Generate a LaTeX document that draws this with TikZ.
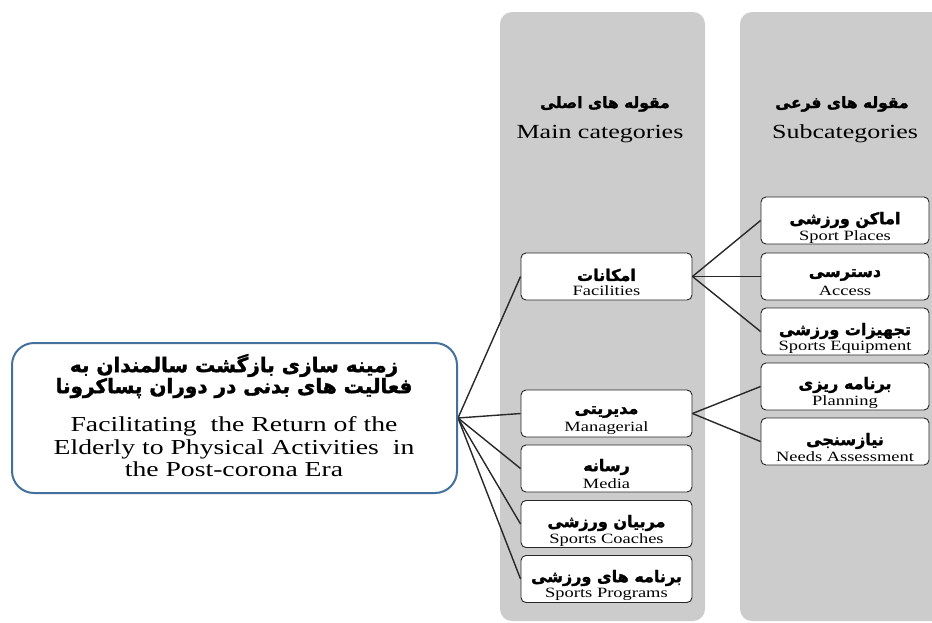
\documentclass[tikz,border=0pt]{standalone}
\usepackage{fontspec}
\TeXXeTstate=1
\setmainfont{Liberation Serif}
\newfontfamily\en[FakeStretch=1.3]{Liberation Serif}
\newfontfamily\fa[Script=Arabic,FakeBold=1.8]{DejaVu Sans}
\newcommand\faT[1]{{\fa\bfseries\beginR #1\endR}}
\definecolor{panelgray}{RGB}{204,204,204}
\definecolor{bigblue}{RGB}{65,113,156}
\definecolor{linegray}{RGB}{40,40,40}
\tikzset{
  panel/.style={fill=panelgray, draw=none, rounded corners=12pt},
  mbox/.style={draw=black!85, line width=0.9pt, fill=white, rounded corners=5pt,
    minimum width=171pt, minimum height=47pt, inner sep=0pt},
  sbox/.style={mbox, minimum width=168pt},
  bigbox/.style={draw=bigblue, line width=2pt, fill=white, rounded corners=22pt,
    minimum width=445pt, minimum height=150pt, inner sep=0pt},
  fatxt/.style={inner sep=0pt, font=\fontsize{16}{18}\selectfont},
  entxt/.style={inner sep=0pt, font=\en\fontsize{14.2}{16}\selectfont},
  hfa/.style={inner sep=0pt, font=\fontsize{15.5}{17}\selectfont},
  hen/.style={inner sep=0pt, font=\en\fontsize{20}{22}\selectfont},
  bfa/.style={inner sep=0pt, font=\fontsize{20}{19}\selectfont, align=center},
  ben/.style={inner sep=0pt, font=\en\fontsize{21.3}{22.5}\selectfont, align=center},
  conn/.style={draw=linegray, line width=1.4pt}
}
\begin{document}
\begin{tikzpicture}[x=1pt,y=-1pt]
\useasboundingbox (0,0) rectangle (932,622);
% panels
\fill[panel] (500,12) rectangle (705,621);
\fill[panel] (740,12) rectangle (960,621);
\node[hfa] (h1fa) at (605,104) {\faT{مقوله های اصلی}};
\node[hen] (h1en) at (600,134) {Main categories};
\node[hfa] (h2fa) at (842,104) {\faT{مقوله های فرعی}};
\node[hen] (h2en) at (845,134) {Subcategories};
% boxes
\node[mbox] (fac) at (606.5,276.5) {};
\node[mbox] (man) at (606.5,413.5) {};
\node[mbox] (med) at (606.5,468.5) {};
\node[mbox] (coa) at (606.5,524) {};
\node[mbox] (pro) at (606.5,579) {};
\node[sbox] (spl) at (845,220.5) {};
\node[sbox] (acc) at (845,276.5) {};
\node[sbox] (equ) at (845,331.5) {};
\node[sbox] (pla) at (845,386.5) {};
\node[sbox] (nee) at (845,441.5) {};
% connectors
\coordinate (hub) at (458,418);
\foreach \t in {fac,man,med,coa,pro}{\draw[conn] (hub) -- (\t.west);}
\foreach \t in {spl,acc,equ}{\draw[conn] (fac.east) -- (\t.west);}
\foreach \t in {pla,nee}{\draw[conn] (man.east) -- (\t.west);}
% big box drawn over hub
\node[bigbox] (big) at (234.5,418) {};
% big box text
\node[bfa] (bigfa) at (234,376) {\faT{زمینه سازی  بازگشت سالمندان به}\\\faT{فعالیت های بدنی در دوران پساکرونا}};
\node[ben] (bigen) at (234,447) {Facilitating\ \ the Return of the\\Elderly to Physical Activities\ \ in\\the Post-corona Era};
% box texts
\node[fatxt] (facfa) at (606.5,275) {\faT{امکانات}};
\node[entxt] (facen) at (606.5,291) {Facilities};
\node[fatxt] (manfa) at (606.5,412) {\faT{مدیریتی}};
\node[entxt] (manen) at (606.5,428) {Managerial};
\node[fatxt] (medfa) at (606.5,467) {\faT{رسانه}};
\node[entxt] (meden) at (606.5,484) {Media};
\node[fatxt] (coafa) at (606.5,523) {\faT{مربیان ورزشی}};
\node[entxt] (coaen) at (606.5,540) {Sports Coaches};
\node[fatxt] (profa) at (606.5,578) {\faT{برنامه های ورزشی}};
\node[entxt] (proen) at (606.5,594) {Sports Programs};
\node[fatxt] (splfa) at (845,220) {\faT{اماکن ورزشی}};
\node[entxt] (splen) at (845,237) {Sport Places};
\node[fatxt] (accfa) at (845,275) {\faT{دسترسی}};
\node[entxt] (accen) at (845,291) {Access};
\node[fatxt] (equfa) at (845,331) {\faT{تجهیزات ورزشی}};
\node[entxt] (equen) at (845,347) {Sports Equipment};
\node[fatxt] (plafa) at (845,385) {\faT{برنامه ریزی}};
\node[entxt] (plaen) at (845,402) {Planning};
\node[fatxt] (neefa) at (845,441) {\faT{نیازسنجی}};
\node[entxt] (neeen) at (845,457) {Needs Assessment};
\end{tikzpicture}
\end{document}
